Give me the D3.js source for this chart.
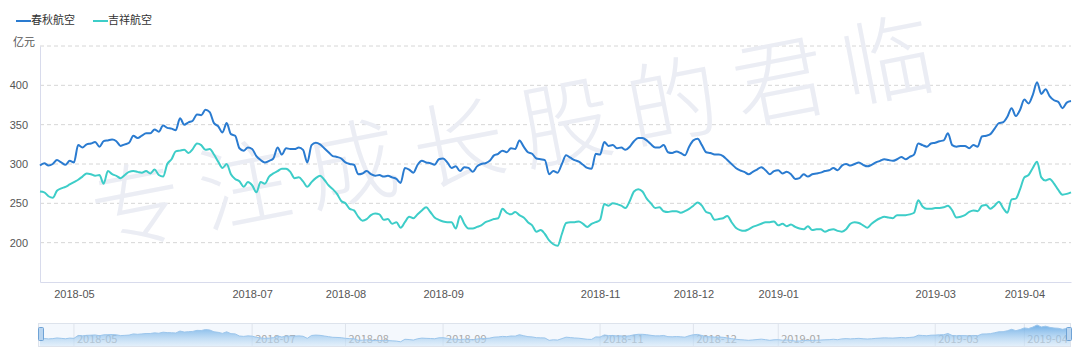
<!DOCTYPE html>
<html>
<head>
<meta charset="utf-8">
<script src="https://cdn.jsdelivr.net/npm/d3@7"></script>
<style>
  body { margin: 0; background: #fff; }
  svg { font-family: "Noto Sans CJK SC", "Noto Sans", sans-serif; }
</style>
</head>
<body>
<svg id="chart"></svg>
<script>
// series names
const seriesNames = ['春秋航空', '吉祥航空'];
const seriesColors = ['#2a7bd0', '#3dcdc8'];

// market closed on these weekdays (between 2018-04-18 and 2019-04-17)
const holidays = ['2018-04-30', '2018-05-01', '2018-06-18', '2018-09-24',
  '2018-10-01', '2018-10-02', '2018-10-03', '2018-10-04', '2018-10-05',
  '2018-12-31', '2019-01-01', '2019-02-04', '2019-02-05', '2019-02-06',
  '2019-02-07', '2019-02-08', '2019-04-05'];

// month labels shown on the x axis
const monthLabels = ['2018-05', '2018-07', '2018-08', '2018-09', '2018-11',
  '2018-12', '2019-01', '2019-03', '2019-04'];

const yTicks = [200, 250, 300, 350, 400];
const gridTicks = [200, 250, 300, 350, 400, 450];

// market value, 亿元 (one value per trading day)
const springAir = [
  298, 301, 298, 300, 305, 302, 299, 304, 302, 324,
  321, 325, 326, 328, 322, 329, 330, 331, 329, 323,
  325, 327, 336, 333, 336, 339, 339, 344, 341, 349,
  346, 345, 343, 358, 350, 353, 355, 363, 362, 369,
  366, 352, 348, 340, 352, 338, 336, 320, 317, 321,
  319, 310, 305, 302, 304, 307, 321, 312, 320, 319,
  319, 321, 318, 302, 324, 327, 325, 320, 315, 310,
  309, 307, 302, 300, 299, 287, 288, 291, 287, 285,
  286, 284, 285, 283, 281, 276, 295, 293, 289, 299,
  304, 302, 301, 299, 306, 307, 302, 295, 297, 291,
  296, 295, 290, 297, 300, 301, 304, 311, 313, 317,
  315, 320, 319, 330, 322, 315, 313, 307, 306, 305,
  287, 291, 289, 300, 311, 308, 305, 303, 299, 295,
  294, 313, 312, 328, 323, 324, 320, 321, 318, 322,
  329, 333, 333, 330, 325, 321, 321, 324, 315, 314,
  316, 314, 311, 322, 330, 332, 324, 315, 314, 312,
  312, 310, 305, 300, 295, 292, 290, 287, 290, 293,
  296, 292, 287, 291, 292, 288, 290, 287, 281, 282,
  287, 284, 287, 288, 289, 291, 292, 295, 292, 298,
  300, 298, 300, 302, 299, 297, 299, 302, 304, 306,
  305, 304, 306, 309, 306, 309, 312, 326, 324, 322,
  326, 327, 329, 330, 339, 324, 322, 323, 323, 320,
  324, 322, 335, 336, 338, 345, 352, 353, 360, 371,
  361, 369, 382, 377, 388, 404, 389, 395, 386, 381,
  379, 371, 378, 380
];

const juneyaoAir = [
  265, 264, 259, 257, 266, 269, 271, 274, 277, 280,
  284, 288, 287, 285, 286, 275, 291, 287, 285, 282,
  286, 290, 291, 290, 289, 291, 288, 293, 286, 284,
  300, 306, 316, 317, 318, 314, 319, 326, 324, 318,
  319, 312, 303, 295, 300, 287, 281, 278, 271, 277,
  273, 264, 277, 275, 284, 288, 291, 294, 294, 290,
  282, 283, 278, 271, 277, 282, 285, 280, 273, 268,
  262, 253, 250, 243, 241, 233, 228, 230, 235, 237,
  236, 229, 230, 224, 226, 219, 226, 233, 231, 236,
  241, 245, 239, 232, 229, 227, 226, 226, 218, 234,
  224, 218, 218, 220, 222, 226, 228, 230, 231, 243,
  238, 236, 239, 235, 232, 226, 222, 214, 216, 211,
  203, 198, 196, 211, 225, 226, 226, 227, 224, 220,
  224, 226, 229, 249, 247, 250, 249, 247, 244, 253,
  265, 268, 265, 256, 250, 244, 245, 240, 239, 240,
  240, 238, 240, 243, 247, 251, 247, 239, 237, 229,
  230, 231, 234, 226, 219, 216, 215, 217, 220, 222,
  224, 226, 226, 227, 222, 224, 221, 223, 220, 218,
  217, 221, 216, 217, 217, 214, 216, 217, 215, 214,
  217, 224, 226, 225, 222, 219, 224, 228, 231, 233,
  232, 231, 235, 235, 235, 236, 238, 254, 246, 243,
  243, 244, 244, 245, 247, 241, 232, 233, 235, 239,
  241, 240, 247, 248, 243, 247, 252, 244, 238, 255,
  256, 268, 283, 286, 295, 303, 283, 279, 281, 275,
  267, 261, 262, 264
];

const width = 1080, height = 360;
const margin = {top: 46, right: 9, bottom: 78, left: 40};
const plotBottom = height - margin.bottom;

// trading days = weekdays that are not holidays
const fmt = d3.timeFormat('%Y-%m-%d');
const days = d3.timeDays(new Date(2018, 3, 18), new Date(2019, 3, 18))
  .filter(d => d.getDay() !== 0 && d.getDay() !== 6 && !holidays.includes(fmt(d)))
  .map(fmt);

// first trading day of each labelled month
const tickDays = monthLabels.map(m => days.find(d => d.startsWith(m)));

const svg = d3.select('#chart')
  .attr('width', width)
  .attr('height', height);

const x = d3.scalePoint()
  .domain(days)
  .range([margin.left, width - margin.right]);

const y = d3.scaleLinear()
  .domain([150, 450])
  .range([plotBottom, margin.top]);

// dashed grid lines
svg.append('g')
  .selectAll('line')
  .data(gridTicks)
  .join('line')
  .attr('x1', margin.left)
  .attr('x2', width - margin.right)
  .attr('y1', d => y(d))
  .attr('y2', d => y(d))
  .attr('stroke', '#d6d6d6')
  .attr('stroke-dasharray', '4,3');

// watermark
svg.append('text')
  .attr('transform', 'translate(522,140) rotate(-11)')
  .attr('text-anchor', 'middle')
  .attr('dominant-baseline', 'middle')
  .attr('font-size', 92)
  .attr('font-weight', 300)
  .attr('letter-spacing', 17)
  .attr('fill', '#ebedf4')
  .text('专注成长股的君临');

// axes, no tick marks
const xAxis = d3.axisBottom(x)
  .tickValues(tickDays)
  .tickFormat(d => d.slice(0, 7))
  .tickSize(0)
  .tickPadding(8);

const yAxis = d3.axisLeft(y)
  .tickValues(yTicks)
  .tickSize(0)
  .tickPadding(12);

const xAxisGroup = svg.append('g')
  .attr('transform', `translate(0,${plotBottom})`)
  .call(xAxis);
xAxisGroup.select('.domain').attr('stroke', '#d8dbec');

const yAxisGroup = svg.append('g')
  .attr('transform', `translate(${margin.left},0)`)
  .call(yAxis);
yAxisGroup.select('.domain').attr('stroke', '#d8dbec');

svg.selectAll('.tick text')
  .attr('fill', '#555')
  .attr('font-size', 11);

// axis name
svg.append('text')
  .attr('x', 24)
  .attr('y', 43)
  .attr('text-anchor', 'middle')
  .attr('dominant-baseline', 'middle')
  .attr('font-size', 11)
  .attr('fill', '#555')
  .text('亿元');

// lines
const line = d3.line()
  .x((d, i) => x(days[i]))
  .y(d => y(d))
  .curve(d3.curveMonotoneX);

[springAir, juneyaoAir].forEach((values, k) => {
  svg.append('path')
    .datum(values)
    .attr('fill', 'none')
    .attr('stroke', seriesColors[k])
    .attr('stroke-width', 2)
    .attr('stroke-linejoin', 'round')
    .attr('d', line);
});

// legend
const legend = svg.append('g');
const legendX = [16, 93];
seriesNames.forEach((name, k) => {
  legend.append('line')
    .attr('x1', legendX[k])
    .attr('x2', legendX[k] + 15)
    .attr('y1', 21)
    .attr('y2', 21)
    .attr('stroke', seriesColors[k])
    .attr('stroke-width', 2);
  legend.append('text')
    .attr('x', legendX[k] + 15)
    .attr('y', 21)
    .attr('dominant-baseline', 'middle')
    .attr('font-size', 11)
    .attr('fill', '#333')
    .text(name);
});

// data zoom slider at the bottom
const sl = {x0: 38, x1: 1071, top: 323, bottom: 347};

svg.append('clipPath')
  .attr('id', 'sliderClip')
  .append('rect')
  .attr('x', sl.x0)
  .attr('y', sl.top)
  .attr('width', sl.x1 - sl.x0)
  .attr('height', sl.bottom - sl.top);

const slider = svg.append('g').attr('clip-path', 'url(#sliderClip)');

slider.append('rect')
  .attr('x', sl.x0)
  .attr('y', sl.top)
  .attr('width', sl.x1 - sl.x0)
  .attr('height', sl.bottom - sl.top)
  .attr('fill', '#f4f8fd');

slider.selectAll('.sep')
  .data(tickDays)
  .join('line')
  .attr('class', 'sep')
  .attr('x1', d => x(d))
  .attr('x2', d => x(d))
  .attr('y1', sl.top)
  .attr('y2', sl.bottom)
  .attr('stroke', '#dfe4ec');

slider.selectAll('.slabel')
  .data(tickDays)
  .join('text')
  .attr('class', 'slabel')
  .attr('x', d => x(d) + 3)
  .attr('y', 340)
  .attr('dominant-baseline', 'middle')
  .attr('font-size', 11)
  .attr('fill', '#a8a8a8')
  .text(d => d.slice(0, 7));

const ys = d3.scaleLinear()
  .domain([d3.min(springAir) - 40, d3.max(springAir)])
  .range([sl.bottom, sl.top + 2]);

const grad = svg.append('defs').append('linearGradient')
  .attr('id', 'sliderGrad')
  .attr('x1', 0).attr('y1', 0).attr('x2', 0).attr('y2', 1);
grad.append('stop').attr('offset', '0%').attr('stop-color', '#5aa3e3').attr('stop-opacity', 0.85);
grad.append('stop').attr('offset', '100%').attr('stop-color', '#d6e9f8').attr('stop-opacity', 0.5);

slider.append('path')
  .datum(springAir)
  .attr('fill', 'url(#sliderGrad)')
  .attr('d', d3.area()
    .x((d, i) => x(days[i]))
    .y0(sl.bottom)
    .y1(d => ys(d)));

slider.append('path')
  .datum(springAir)
  .attr('fill', 'none')
  .attr('stroke', '#9cc6ec')
  .attr('stroke-width', 1)
  .attr('d', d3.line()
    .x((d, i) => x(days[i]))
    .y(d => ys(d)));

svg.append('rect')
  .attr('x', sl.x0 + 0.5)
  .attr('y', sl.top + 0.5)
  .attr('width', sl.x1 - sl.x0 - 1)
  .attr('height', sl.bottom - sl.top - 1)
  .attr('fill', 'none')
  .attr('stroke', '#dde3ec');

// handles
[sl.x0, sl.x1 - 5].forEach(hx => {
  svg.append('rect')
    .attr('x', hx + 0.5)
    .attr('y', 327.5)
    .attr('width', 5)
    .attr('height', 13)
    .attr('rx', 1)
    .attr('fill', '#b9d5f0')
    .attr('stroke', '#6fa3d6');
});
</script>
</body>
</html>
